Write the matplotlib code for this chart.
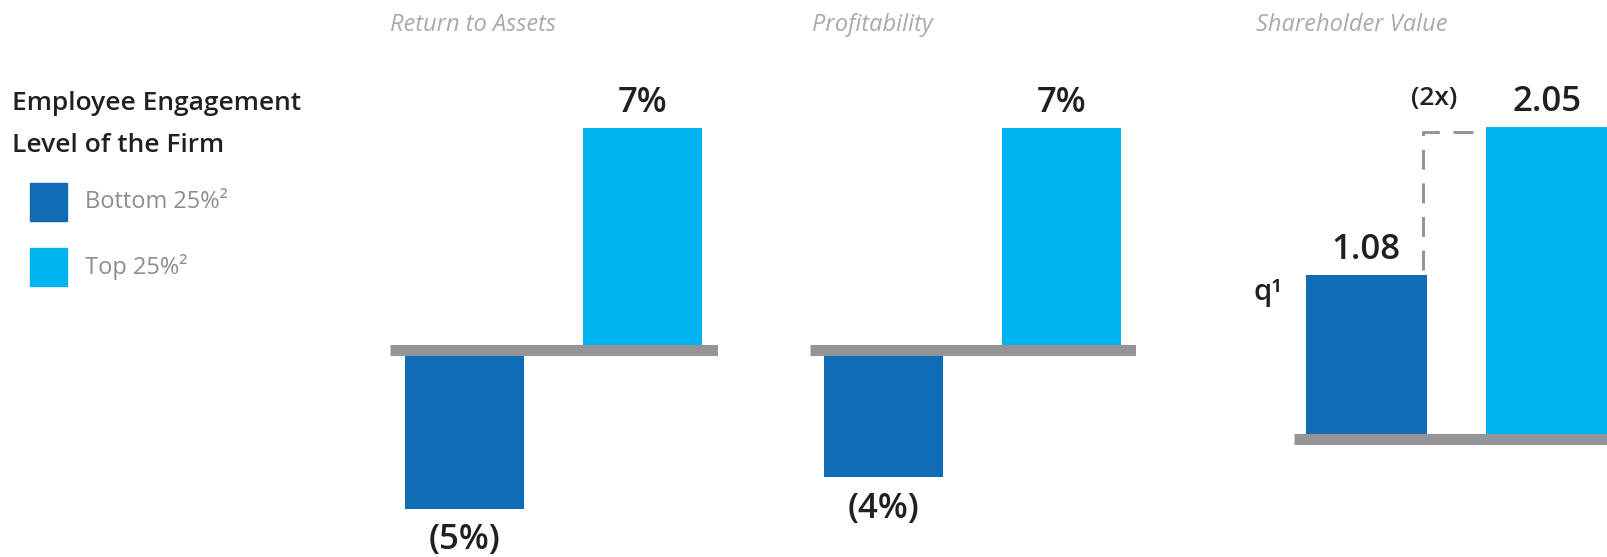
import matplotlib.pyplot as plt
from matplotlib.patches import Rectangle

W, H = 1608, 557

# data
groups = ['Bottom 25%²', 'Top 25%²']
roa = [-5, 7]
profit = [-4, 7]
shareholder = [1.08, 2.05]
roa_labels = ['(5%)', '7%']
profit_labels = ['(4%)', '7%']
shareholder_labels = ['1.08', '2.05']
titles = ['Return to Assets', 'Profitability', 'Shareholder Value']

DARK = '#106cb4'
CYAN = '#00b4ef'
GREY = '#949499'
TXT = '#231f20'
TITLE_C = '#a9a9b0'
LEG_C = '#8c8c96'

plt.rcParams['font.family'] = ['Open Sans', 'DejaVu Sans']

fig = plt.figure(figsize=(W / 100, H / 100), dpi=100)


def fx(x):
    return x / W


def fy(y):
    # pixel measured from top -> figure fraction
    return 1 - y / H


def panel(left, right, zero_y, px_per_unit, xlim):
    ax = fig.add_axes([fx(left), 0, (right - left) / W, 1])
    ax.set_ylim(-(H - zero_y) / px_per_unit, zero_y / px_per_unit)
    ax.set_xlim(*xlim)
    ax.axis('off')
    return ax


def draw_bars(ax, values, labels):
    ax.bar([0, 1], values, width=0.67, color=[DARK, CYAN], zorder=2)
    ax.axhline(0, color=GREY, lw=8, solid_capstyle='butt', zorder=3)
    for i, (v, lab) in enumerate(zip(values, labels)):
        off = 11.5 if v > 0 else -29.5
        ax.annotate(lab, (i, v), xytext=(0, off), textcoords='offset points',
                    ha='center', va='baseline', fontsize=25, fontweight='semibold',
                    color=TXT)


ax1 = panel(390, 718, 350, 31.7, (-0.42, 1.425))
draw_bars(ax1, roa, roa_labels)

ax2 = panel(810, 1136, 350, 31.7, (-0.415, 1.42))
draw_bars(ax2, profit, profit_labels)

ax3 = panel(1294, 1608, 439, 152, (-0.40, 1.34))
draw_bars(ax3, shareholder, shareholder_labels)

# dashed connector showing the doubling
x0 = 0.335 - 0.02
x1 = 1 - 0.335
ax3.plot([x0, x0, x1], [shareholder[0] + 0.03, shareholder[1] - 0.03, shareholder[1] - 0.03],
         ls=(0, (6.5, 4.5)), lw=2.2, color=GREY, zorder=1)
ax3.annotate('(2x)', (x0, shareholder[1]), xytext=(8, 16), textcoords='offset points',
             ha='center', va='baseline', fontsize=19, fontweight='semibold', color=TXT)
fig.text(fx(1254), fy(300), 'q¹', fontsize=21, fontweight='semibold', color=TXT,
         ha='left', va='baseline')

# panel titles
for x, t in zip([390, 812, 1256], titles):
    fig.text(fx(x), fy(31), t, fontsize=17, style='italic', color=TITLE_C,
             ha='left', va='baseline')

# legend
fig.text(fx(12), fy(110), 'Employee Engagement', fontsize=19, fontweight='semibold',
         color=TXT, ha='left', va='baseline')
fig.text(fx(12), fy(152), 'Level of the Firm', fontsize=19, fontweight='semibold',
         color=TXT, ha='left', va='baseline')
for (top, col, lab) in zip([183, 248], [DARK, CYAN], groups):
    fig.add_artist(Rectangle((fx(30), fy(top + 38)), 37 / W, 38 / H,
                             transform=fig.transFigure, color=col))
    fig.text(fx(85), fy(top + 19), lab, fontsize=17, color=LEG_C,
             ha='left', va='center')

fig.savefig('out.png', dpi=100)
